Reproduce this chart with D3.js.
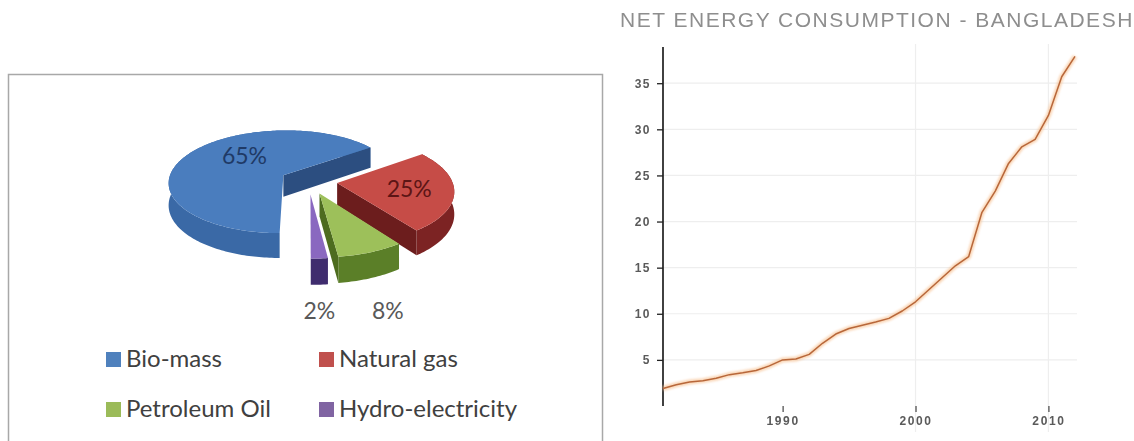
<!DOCTYPE html>
<html>
<head>
<meta charset="utf-8">
<script src="https://cdn.jsdelivr.net/npm/d3@7"></script>
<style>
  body { margin: 0; background: #fff; }
  svg { display: block; }
</style>
</head>
<body>
<svg id="chart" width="1134" height="441"></svg>
<script>
// ---- Energy mix (share of primary supply, %) ----
const sources = ["Bio-mass", "Natural gas", "Petroleum Oil", "Hydro-electricity"];
const shares = [65, 25, 8, 2];

// ---- Net energy consumption, Bangladesh ----
const years = [1981, 1982, 1983, 1984, 1985, 1986, 1987, 1988, 1989, 1990,
               1991, 1992, 1993, 1994, 1995, 1996, 1997, 1998, 1999, 2000,
               2001, 2002, 2003, 2004, 2005, 2006, 2007, 2008, 2009, 2010,
               2011, 2012];
const consumption = [1.9, 2.3, 2.6, 2.75, 3.0, 3.4, 3.6, 3.85, 4.35, 5.0,
                     5.1, 5.6, 6.8, 7.8, 8.4, 8.75, 9.1, 9.5, 10.3, 11.3,
                     12.6, 13.9, 15.2, 16.2, 21.0, 23.3, 26.3, 28.1, 28.9, 31.5,
                     35.7, 37.9];
const yTicks = [5, 10, 15, 20, 25, 30, 35];
const xTicks = [1990, 2000, 2010];
const lineTitle = "NET ENERGY CONSUMPTION - BANGLADESH";

const svg = d3.select("#chart");

// ================= Left panel: exploded 3-D pie =================
svg.append("rect")
  .attr("x", 8.5).attr("y", 74.5)
  .attr("width", 594).attr("height", 380)
  .attr("fill", "#fff")
  .attr("stroke", "#a8a8a8").attr("stroke-width", 1.5);

const sliceStyle = [
  { top: "#4a7dbe", wall: "#3a69a6", cut: "#2c4e80" },
  { top: "#c64c47", wall: "#7c2323", cut: "#6c1d1d" },
  { top: "#9dc05a", wall: "#5b7f28", cut: "#4d6c1f" },
  { top: "#8a68c0", wall: "#3f2c6e", cut: "#35255e" }
];
const legendColor = d3.scaleOrdinal().domain(sources)
  .range(["#4f81bd", "#c0504d", "#9bbb59", "#8064a2"]);

// projection of the tilted disk (with a touch of perspective)
const P = { cx: 308.6, cy: 181, rx: 115, ry: 52, k: 0.13, depth: 22, explode: 0.25 };
function project(a, r, h, off) {
  const X = Math.sin(a) * r + off[0];
  const Z = -Math.cos(a) * r + off[1];
  const s = 1 / (1 - P.k * Z);
  return [P.cx + X * P.rx * s, P.cy + (Z * P.ry + h) * s];
}
function arcPoints(a0, a1, h, off) {
  const n = Math.max(2, Math.ceil(Math.abs(a1 - a0) / 0.02));
  return d3.range(n + 1).map(i => project(a0 + (a1 - a0) * i / n, 1, h, off));
}

const pie = d3.pie().sort(null).startAngle(Math.PI).endAngle(3 * Math.PI);
const slices = pie(shares).map((d, i) => {
  const mid = (d.startAngle + d.endAngle) / 2;
  const off = [Math.sin(mid) * P.explode, -Math.cos(mid) * P.explode];
  return { ...d, i, mid, off };
});
const poly = d3.line();

// paint from back to front
const order = slices.slice().sort((a, b) => a.off[1] - b.off[1]);
const pieG = svg.append("g");
order.forEach(s => {
  const st = sliceStyle[s.i];
  const g = pieG.append("g");
  // outer wall
  const topRim = arcPoints(s.startAngle, s.endAngle, 0, s.off);
  const botRim = arcPoints(s.startAngle, s.endAngle, P.depth, s.off).reverse();
  g.append("path").attr("d", poly(topRim.concat(botRim)) + "Z").attr("fill", st.wall);
  // visible cut faces
  const faces = [];
  if (-Math.sin(s.startAngle) > 0.01) faces.push(s.startAngle);
  if (Math.sin(s.endAngle) > 0.01) faces.push(s.endAngle);
  faces.forEach(a => {
    const q = [project(0, 0, 0, s.off), project(a, 1, 0, s.off),
               project(a, 1, P.depth, s.off), project(0, 0, P.depth, s.off)];
    g.append("path").attr("d", poly(q) + "Z").attr("fill", st.cut);
  });
  // top face
  const top = [project(0, 0, 0, s.off)].concat(topRim);
  g.append("path").attr("d", poly(top) + "Z").attr("fill", st.top);
});

// value labels
const labelPlace = [
  { r: 0.4, h: 0, dx: 0, dy: -11, fill: "#1f3a66" },
  { r: 0.62, h: 0, dx: 0, dy: 0, fill: "#5c1515" },
  { r: 1, h: P.depth, dx: 17, dy: 32, fill: "#595959" },
  { r: 1, h: P.depth, dx: 0, dy: 25, fill: "#595959" }
];
slices.forEach(s => {
  const lp = labelPlace[s.i];
  const [lx, ly] = project(s.mid, lp.r, lp.h, s.off);
  svg.append("text")
    .attr("x", lx + lp.dx).attr("y", ly + lp.dy)
    .attr("text-anchor", "middle").attr("dominant-baseline", "central")
    .attr("font-family", "Lato, 'Open Sans', sans-serif")
    .attr("font-size", 23)
    .attr("fill", lp.fill)
    .text(d3.format(".0%")(s.data / d3.sum(shares)));
});

// legend (2 x 2)
const legend = svg.append("g")
  .attr("font-family", "Lato, 'Open Sans', sans-serif")
  .attr("font-size", 24).attr("fill", "#404040");
sources.forEach((name, i) => {
  const col = i % 2, row = Math.floor(i / 2);
  const gx = col === 0 ? 106 : 319;
  const gy = 367 + row * 50;
  legend.append("rect")
    .attr("x", gx).attr("y", gy - 15).attr("width", 15).attr("height", 15)
    .attr("fill", legendColor(name));
  legend.append("text").attr("x", gx + 20).attr("y", gy).text(name);
});

// ================= Right panel: line chart =================
const defs = svg.append("defs");
defs.append("filter").attr("id", "soft")
  .append("feGaussianBlur").attr("stdDeviation", 0.45);
defs.append("filter").attr("id", "glow")
  .append("feGaussianBlur").attr("stdDeviation", 1.2);

const x = d3.scaleLinear().domain(d3.extent(years)).range([663, 1075]);
const y = d3.scaleLinear().domain([0, 38.6]).range([406, 50]);

const grid = svg.append("g").attr("stroke", "#eeeeee").attr("stroke-width", 1.2);
grid.selectAll("line.h").data(yTicks).join("line")
  .attr("x1", x.range()[0]).attr("x2", x.range()[1] + 2)
  .attr("y1", d => y(d)).attr("y2", d => y(d));
grid.selectAll("line.v").data(xTicks.slice(1)).join("line")
  .attr("x1", d => x(d)).attr("x2", d => x(d))
  .attr("y1", 44).attr("y2", 432);

svg.append("text")
  .attr("x", 620).attr("y", 27)
  .attr("font-family", "'Liberation Sans', Arial, sans-serif")
  .attr("font-size", 21).attr("letter-spacing", 1.5)
  .attr("fill", "#8e8e8e")
  .attr("filter", "url(#soft)")
  .text(lineTitle);

const yAxis = svg.append("g")
  .attr("transform", `translate(${x.range()[0]},0)`)
  .call(d3.axisLeft(y).tickValues(yTicks).tickSize(6).tickSizeOuter(0).tickPadding(6));
yAxis.select(".domain").attr("stroke", "#111").attr("stroke-width", 1.6)
  .attr("d", `M0,${y.range()[0]}V${y.range()[1] - 3}`);
yAxis.selectAll(".tick line").attr("stroke", "#222").attr("stroke-width", 1.3);
yAxis.selectAll(".tick text")
  .attr("font-family", "'Liberation Sans', Arial, sans-serif")
  .attr("font-size", 12).attr("font-weight", "bold").attr("letter-spacing", 1.5)
  .attr("fill", "#5a5a5a").attr("filter", "url(#soft)");

const xAxis = svg.append("g")
  .attr("transform", `translate(0,${y.range()[0]})`)
  .call(d3.axisBottom(x).tickValues(xTicks).tickFormat(d3.format("d"))
        .tickSize(6).tickSizeOuter(0).tickPadding(4));
xAxis.select(".domain").remove();
xAxis.selectAll(".tick line").attr("stroke", "#444").attr("stroke-width", 1.2);
xAxis.selectAll(".tick text")
  .attr("font-family", "'Liberation Sans', Arial, sans-serif")
  .attr("font-size", 12).attr("font-weight", "bold").attr("letter-spacing", 1.6)
  .attr("fill", "#5a5a5a").attr("filter", "url(#soft)");

const series = years.map((yr, i) => ({ yr, v: consumption[i] }));
const lineGen = d3.line().x(d => x(d.yr)).y(d => y(d.v));
svg.append("path").datum(series)
  .attr("d", lineGen).attr("fill", "none")
  .attr("stroke", "#f8c69a").attr("stroke-width", 5).attr("opacity", 0.7)
  .attr("filter", "url(#glow)");
svg.append("path").datum(series)
  .attr("d", lineGen).attr("fill", "none")
  .attr("stroke", "#b8673a").attr("stroke-width", 1.5)
  .attr("stroke-linejoin", "round");
</script>
</body>
</html>
